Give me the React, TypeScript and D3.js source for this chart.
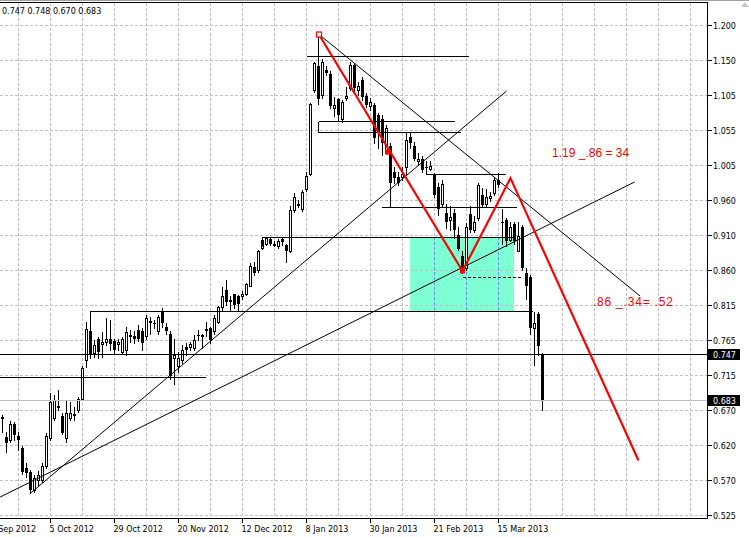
import React from "react";
import * as d3 from "d3";

// ---- OHLC data (daily bars, index 0 = first visible bar) ----
const opens = [
  0.660, 0.632, 0.628, 0.650, 0.634, 0.617, 0.590, 0.584, 0.559, 0.573,
  0.573, 0.592, 0.631, 0.659, 0.675, 0.662, 0.631, 0.659, 0.664, 0.669,
  0.685, 0.738, 0.778, 0.748, 0.767, 0.761, 0.764, 0.767, 0.765, 0.760,
  0.750, 0.752, 0.771, 0.771, 0.780, 0.778, 0.771, 0.791, 0.789, 0.778,
  0.805, 0.784, 0.775, 0.741, 0.730, 0.739, 0.757, 0.756, 0.755, 0.773,
  0.771, 0.781, 0.782, 0.778, 0.791, 0.812, 0.835, 0.821, 0.829, 0.826,
  0.826, 0.830, 0.840, 0.866, 0.863, 0.893, 0.899, 0.905, 0.899, 0.895,
  0.905, 0.897, 0.888, 0.945, 0.954, 0.946, 0.974, 0.995, 1.110, 1.143,
  1.103, 1.138, 1.133, 1.085, 1.098, 1.070, 1.099, 1.113, 1.145, 1.110,
  1.124, 1.102, 1.088, 1.090, 1.076, 1.071, 1.025, 1.033, 0.998, 0.991,
  0.991, 1.005, 1.046, 1.033, 1.012, 1.015, 1.005, 1.001, 0.993, 0.977,
  0.954, 0.941, 0.932, 0.941, 0.911, 0.882, 0.865, 0.939, 0.918, 0.934,
  0.966, 0.954, 0.961, 0.968, 0.986, 0.929, 0.931, 0.904, 0.926, 0.889,
  0.922, 0.859, 0.853, 0.782, 0.802, 0.747,
];
const highs = [
  0.663, 0.639, 0.654, 0.653, 0.639, 0.620, 0.597, 0.587, 0.580, 0.586,
  0.596, 0.638, 0.693, 0.690, 0.697, 0.666, 0.683, 0.680, 0.674, 0.688,
  0.730, 0.791, 0.790, 0.766, 0.770, 0.777, 0.796, 0.793, 0.768, 0.768,
  0.770, 0.784, 0.780, 0.778, 0.787, 0.782, 0.801, 0.798, 0.794, 0.801,
  0.810, 0.790, 0.778, 0.768, 0.750, 0.759, 0.762, 0.764, 0.773, 0.780,
  0.775, 0.791, 0.784, 0.801, 0.813, 0.839, 0.849, 0.827, 0.830, 0.828,
  0.833, 0.845, 0.872, 0.874, 0.890, 0.908, 0.908, 0.908, 0.902, 0.905,
  0.908, 0.899, 0.951, 0.969, 0.959, 0.973, 0.997, 1.093, 1.149, 1.188,
  1.153, 1.143, 1.136, 1.101, 1.100, 1.097, 1.115, 1.149, 1.147, 1.122,
  1.129, 1.106, 1.099, 1.092, 1.079, 1.076, 1.062, 1.037, 1.005, 0.998,
  1.005, 1.051, 1.051, 1.039, 1.023, 1.019, 1.012, 1.012, 0.996, 0.982,
  0.986, 0.954, 0.950, 0.947, 0.922, 0.888, 0.927, 0.950, 0.937, 0.983,
  0.975, 0.974, 0.970, 0.991, 0.996, 0.946, 0.934, 0.929, 0.929, 0.929,
  0.925, 0.865, 0.856, 0.805, 0.805, 0.748,
];
const lows = [
  0.639, 0.612, 0.625, 0.628, 0.615, 0.582, 0.577, 0.555, 0.556, 0.566,
  0.570, 0.590, 0.629, 0.656, 0.670, 0.636, 0.626, 0.656, 0.656, 0.667,
  0.683, 0.729, 0.741, 0.743, 0.741, 0.743, 0.759, 0.752, 0.748, 0.752,
  0.747, 0.745, 0.764, 0.762, 0.765, 0.752, 0.768, 0.775, 0.782, 0.775,
  0.784, 0.775, 0.712, 0.706, 0.722, 0.735, 0.745, 0.752, 0.752, 0.766,
  0.755, 0.771, 0.762, 0.775, 0.789, 0.807, 0.814, 0.807, 0.810, 0.807,
  0.823, 0.828, 0.840, 0.856, 0.860, 0.892, 0.897, 0.897, 0.895, 0.893,
  0.897, 0.873, 0.887, 0.943, 0.949, 0.944, 0.972, 0.993, 1.108, 1.091,
  1.099, 1.131, 1.086, 1.074, 1.068, 1.067, 1.097, 1.110, 1.108, 1.104,
  1.097, 1.087, 1.083, 1.037, 1.030, 1.021, 1.023, 0.950, 0.982, 0.980,
  0.986, 0.995, 1.030, 1.014, 1.007, 0.998, 0.995, 1.000, 0.963, 0.938,
  0.950, 0.920, 0.918, 0.906, 0.890, 0.859, 0.863, 0.915, 0.915, 0.931,
  0.950, 0.951, 0.957, 0.966, 0.977, 0.899, 0.896, 0.902, 0.899, 0.888,
  0.863, 0.823, 0.775, 0.732, 0.745, 0.670,
];
const closes = [
  0.657, 0.624, 0.650, 0.635, 0.628, 0.584, 0.583, 0.559, 0.576, 0.580,
  0.592, 0.634, 0.681, 0.683, 0.672, 0.638, 0.666, 0.666, 0.661, 0.685,
  0.728, 0.781, 0.745, 0.759, 0.750, 0.764, 0.768, 0.761, 0.752, 0.763,
  0.767, 0.777, 0.773, 0.768, 0.768, 0.762, 0.797, 0.792, 0.788, 0.798,
  0.789, 0.779, 0.716, 0.745, 0.741, 0.752, 0.752, 0.761, 0.766, 0.772,
  0.773, 0.779, 0.766, 0.797, 0.811, 0.827, 0.819, 0.819, 0.814, 0.816,
  0.830, 0.843, 0.868, 0.859, 0.889, 0.904, 0.906, 0.898, 0.896, 0.902,
  0.901, 0.888, 0.945, 0.963, 0.951, 0.970, 0.992, 1.091, 1.147, 1.098,
  1.149, 1.134, 1.088, 1.090, 1.076, 1.094, 1.102, 1.145, 1.113, 1.116,
  1.101, 1.090, 1.094, 1.044, 1.051, 1.037, 1.058, 0.982, 0.989, 0.982,
  0.995, 1.042, 1.037, 1.016, 1.016, 1.000, 1.003, 1.006, 0.966, 0.947,
  0.981, 0.929, 0.936, 0.918, 0.892, 0.863, 0.922, 0.918, 0.929, 0.980,
  0.952, 0.963, 0.964, 0.986, 0.980, 0.927, 0.902, 0.922, 0.902, 0.909,
  0.865, 0.840, 0.782, 0.790, 0.758, 0.683,
];

// ---- axis labels ----
const priceTickLabels = [
  "1.200", "1.150", "1.105", "1.055", "1.005", "0.960", "0.910", "0.860",
  "0.815", "0.765", "0.715", "0.670", "0.620", "0.570", "0.525",
];
const dateLabels = [
  "13 Sep 2012", "5 Oct 2012", "29 Oct 2012", "20 Nov 2012", "12 Dec 2012",
  "8 Jan 2013", "30 Jan 2013", "21 Feb 2013", "15 Mar 2013",
];
const dateLabelBars = [-4, 12, 28, 44, 60, 76, 92, 108, 124];
const headerText = "0.747 0.748 0.670 0.683";
const lastPrice = 0.747;
const bidPrice = 0.683;

// ---- chart objects (bar index, price) ----
const zigzagBars = [79, 115, 127, 159];
const zigzagPrices = [1.188, 0.861, 0.989, 0.6];
const trendFromBars = [79, 7, -0.6];
const trendFromPrices = [1.1876, 0.555, 0.5497];
const trendToBars = [159.4, 126, 158];
const trendToPrices = [0.8266, 1.109, 0.9837];
const levelPrices = [1.1573, 1.0677, 1.0521, 0.9943, 0.9488, 0.9075, 0.8054, 0.7155];
const levelFromBars = [76, 79, 79, 105.9, 94.9, 64.9, 21.9, -1];
const levelToBars = [116.6, 113, 114.6, 125.9, 128.6, 128.4, 132.6, 50.9];
const edgeBars = [79, 22, 64.9];
const edgeTopPrices = [1.0677, 0.8054, 0.9075];
const edgeBottomPrices = [1.0521, 0.79, 0.895];
const necklineBars = [115.2, 130.2];
const necklinePrice = 0.8532;
const zoneBars = [101.9, 127.9];
const zonePrices = [0.9075, 0.8054];
const markerBars = [79, 115, 96.3];
const markerPrices = [1.1876, 0.8615, 1.025];
const noteTexts = ["1.19 _.86 = 34", ".86 _.34= .52"];
const noteBars = [137.4, 147.6];
const notePrices = [1.0177, 0.8133];

export default function App() {
  const W = 749;
  const H = 537;
  const plotRight = 707.5;
  const plotTop = 2.5;
  const plotBottom = 518.5;
  const font = "'DejaVu Sans', Tahoma, sans-serif";

  const x = d3.scaleLinear().domain([0, 176]).range([2.5, 706.5]);
  const y = d3.scaleLinear().domain([0.525, 1.2]).range([515, 25]);
  const ry = (v: number) => Math.round(y(v)) + 0.5;

  const n = priceTickLabels.length;
  const tickVals = priceTickLabels.map((_, i) => 1.2 - (i * (1.2 - 0.525)) / (n - 1));
  const gridBars = d3.range(4, 176, 8);

  const zigLine = d3
    .line<number>()
    .x((_, i) => x(zigzagBars[i]))
    .y((_, i) => y(zigzagPrices[i]));

  const zx0 = x(zoneBars[0]);
  const zx1 = x(zoneBars[1]);
  const zy0 = y(zonePrices[0]);
  const zy1 = y(zonePrices[1]);

  return (
    <svg
      width={W}
      height={H}
      style={{ position: "absolute", left: 0, top: 0, background: "#fff" }}
    >
      <rect x={0} y={0} width={W} height={H} fill="#fff" />

      {/* background zone */}
      <rect x={zx0} y={zy0} width={zx1 - zx0} height={zy1 - zy0} fill="#7fffd4" />

      {/* grid */}
      <g stroke="#c0c0c0" strokeDasharray="3,2" shapeRendering="crispEdges">
        {tickVals.map((v, i) => (
          <line key={"h" + i} x1={0} x2={plotRight} y1={ry(v)} y2={ry(v)} />
        ))}
        {gridBars.map((b) => (
          <line key={"v" + b} x1={x(b)} x2={x(b)} y1={plotTop} y2={plotBottom} />
        ))}
      </g>
      <g stroke="#4f9cff" strokeDasharray="3,2" shapeRendering="crispEdges">
        {gridBars
          .filter((b) => x(b) > zx0 && x(b) < zx1)
          .map((b) => (
            <line key={"zv" + b} x1={x(b)} x2={x(b)} y1={zy0} y2={zy1} />
          ))}
      </g>

      {/* candles */}
      <g shapeRendering="crispEdges">
        {opens.map((o, i) => {
          const c = closes[i];
          const cx = x(i);
          const yo = Math.round(y(o));
          const yc = Math.round(y(c));
          const yh = Math.round(y(highs[i]));
          const yl = Math.round(y(lows[i]));
          const bull = c >= o;
          return (
            <g key={i}>
              <line x1={cx} x2={cx} y1={yh} y2={yl + 1} stroke="#000" />
              {bull ? (
                <rect
                  x={cx - 1}
                  y={yc + 0.5}
                  width={2}
                  height={Math.max(yo - yc, 0)}
                  fill="#fff"
                  stroke="#000"
                />
              ) : (
                <rect
                  x={cx - 1.5}
                  y={yo}
                  width={3}
                  height={Math.max(yc - yo, 1)}
                  fill="#000"
                />
              )}
            </g>
          );
        })}
      </g>

      {/* horizontal objects */}
      <g stroke="#000" shapeRendering="crispEdges">
        {levelPrices.map((p, i) => (
          <line
            key={"l" + i}
            x1={x(levelFromBars[i])}
            x2={x(levelToBars[i])}
            y1={ry(p)}
            y2={ry(p)}
          />
        ))}
        {edgeBars.map((b, i) => (
          <line
            key={"e" + i}
            x1={x(b)}
            x2={x(b)}
            y1={ry(edgeTopPrices[i])}
            y2={ry(edgeBottomPrices[i])}
          />
        ))}
        <line x1={0} x2={plotRight} y1={ry(lastPrice)} y2={ry(lastPrice)} />
        <line
          x1={x(necklineBars[0])}
          x2={x(necklineBars[1])}
          y1={ry(necklinePrice)}
          y2={ry(necklinePrice)}
          strokeDasharray="3,2"
        />
      </g>
      <line
        x1={0}
        x2={plotRight}
        y1={ry(bidPrice)}
        y2={ry(bidPrice)}
        stroke="#c0c0c0"
        shapeRendering="crispEdges"
      />

      {/* trend lines */}
      <g stroke="#000" strokeWidth={1}>
        {trendFromBars.map((b, i) => (
          <line
            key={"t" + i}
            x1={x(b)}
            y1={y(trendFromPrices[i])}
            x2={x(trendToBars[i])}
            y2={y(trendToPrices[i])}
          />
        ))}
      </g>

      {/* zigzag */}
      <path d={zigLine(zigzagPrices) || ""} fill="none" stroke="#ff0000" strokeWidth={2.2} />
      {markerBars.map((b, i) => (
        <rect
          key={"m" + i}
          x={x(b) - 2}
          y={y(markerPrices[i]) - 2}
          width={i === 0 ? 5 : 4}
          height={i === 0 ? 5 : 4}
          fill={i === 0 ? "#fff" : "#ff0000"}
          stroke="#ff0000"
          strokeWidth={1.2}
        />
      ))}

      {noteTexts.map((t, i) => (
        <text
          key={"n" + i}
          x={x(noteBars[i])}
          y={y(notePrices[i])}
          fill="#ff0000"
          fontFamily="'Liberation Sans', Arial, sans-serif"
          fontSize={12}
          letterSpacing={i === 1 ? 0.8 : 0}
        >
          {t}
        </text>
      ))}

      {/* frame */}
      <line x1={0} x2={W} y1={0.5} y2={0.5} stroke="#a0a0a0" />
      <g stroke="#000" shapeRendering="crispEdges">
        <line x1={0} x2={plotRight} y1={plotTop} y2={plotTop} />
        <line x1={plotRight} x2={plotRight} y1={plotTop} y2={plotBottom} />
        <line x1={0} x2={plotRight} y1={plotBottom} y2={plotBottom} />
      </g>
      <polygon points="741,7 745,2 749,7" fill="#c8c8c8" />

      {/* header */}
      <text x={2} y={14} fontFamily={font} fontSize={8} fill="#000">
        {headerText}
      </text>

      {/* price axis */}
      <g fontFamily={font} fontSize={8} fill="#000">
        {tickVals.map((v, i) => (
          <g key={"pt" + i}>
            <line
              x1={plotRight}
              x2={plotRight + 4}
              y1={ry(v)}
              y2={ry(v)}
              stroke="#000"
              shapeRendering="crispEdges"
            />
            <text x={713} y={Math.round(y(v)) + 3.5}>
              {priceTickLabels[i]}
            </text>
          </g>
        ))}
      </g>
      {[lastPrice, bidPrice].map((p) => (
        <g key={"pb" + p}>
          <rect x={708} y={Math.round(y(p)) - 5} width={32} height={11} fill="#000" />
          <text x={713} y={Math.round(y(p)) + 3.5} fontFamily={font} fontSize={8} fill="#fff">
            {p.toFixed(3)}
          </text>
        </g>
      ))}

      {/* time axis */}
      <g fontFamily={font} fontSize={8} fill="#000">
        {dateLabelBars.map((b, i) => (
          <g key={"d" + i}>
            <line
              x1={x(b)}
              x2={x(b)}
              y1={plotBottom}
              y2={plotBottom + 4}
              stroke="#000"
              shapeRendering="crispEdges"
            />
            <text x={x(b) - 1} y={532}>
              {dateLabels[i]}
            </text>
          </g>
        ))}
      </g>
    </svg>
  );
}
